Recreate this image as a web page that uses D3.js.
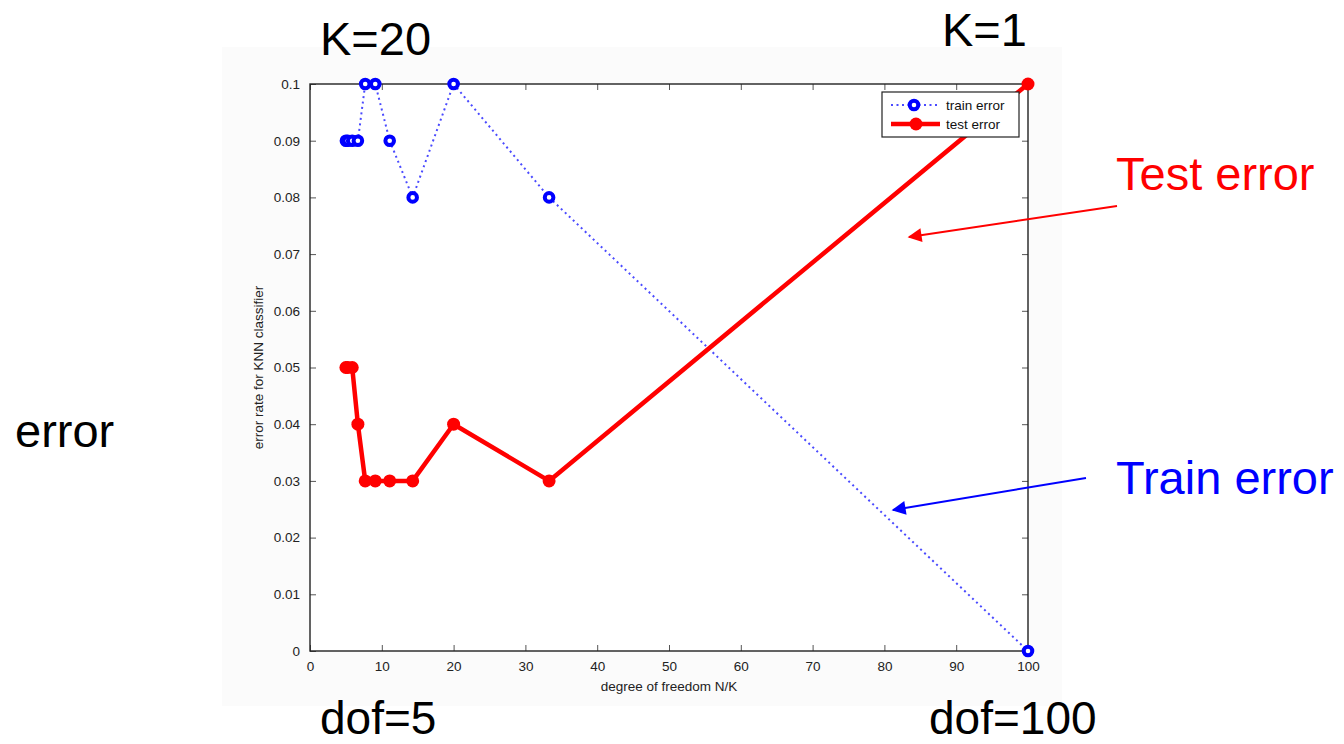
<!DOCTYPE html>
<html>
<head>
<meta charset="utf-8">
<script src="https://cdn.jsdelivr.net/npm/d3@7"></script>
<style>
  html, body { margin: 0; padding: 0; background: #ffffff; }
  svg { display: block; }
</style>
</head>
<body>
<svg id="chart" width="1344" height="744"></svg>
<script>
// Degrees of freedom N/K (N = 100) for the neighbourhood sizes that were tried
const dof = [5, 5.26, 5.88, 6.67, 7.69, 9.09, 11.1, 14.3, 20, 33.3, 100];
// Error rates of the KNN classifier at each dof
const trainError = [0.09, 0.09, 0.09, 0.09, 0.1, 0.1, 0.09, 0.08, 0.1, 0.08, 0];
const testError  = [0.05, 0.05, 0.05, 0.04, 0.03, 0.03, 0.03, 0.03, 0.04, 0.03, 0.1];
// Axis ticks
const xTicks = [0, 10, 20, 30, 40, 50, 60, 70, 80, 90, 100];
const yTicks = [0, 0.01, 0.02, 0.03, 0.04, 0.05, 0.06, 0.07, 0.08, 0.09, 0.1];
const yTickLabels = ["0", "0.01", "0.02", "0.03", "0.04", "0.05", "0.06", "0.07", "0.08", "0.09", "0.1"];
const seriesNames = ["train error", "test error"];

const svg = d3.select("#chart");
const big = "'Liberation Sans', Arial, sans-serif";
const small = "'Liberation Sans', Arial, sans-serif";

// figure panel
svg.append("rect").attr("x", 222).attr("y", 47).attr("width", 840).attr("height", 659)
  .attr("fill", "#fbfbfb");

const x = d3.scaleLinear().domain([0, 100]).range([310, 1028]);
const y = d3.scaleLinear().domain([0, 0.1]).range([651, 84]);

// plot area
svg.append("rect").attr("x", x(0)).attr("y", y(0.1))
  .attr("width", x(100) - x(0)).attr("height", y(0) - y(0.1))
  .attr("fill", "#ffffff");

const tickStyle = g => {
  g.select(".domain").remove();
  g.selectAll(".tick line").attr("stroke", "#555");
  g.selectAll(".tick text").attr("font-family", small).attr("font-size", 13.5).attr("fill", "#222");
};

// bottom axis (ticks point inward)
svg.append("g").attr("transform", `translate(0,${y(0)})`)
  .call(d3.axisBottom(x).tickValues(xTicks).tickSizeInner(-6).tickSizeOuter(0).tickPadding(10).tickFormat(d3.format("d")))
  .call(tickStyle);
// top axis
svg.append("g").attr("transform", `translate(0,${y(0.1)})`)
  .call(d3.axisTop(x).tickValues(xTicks).tickSizeInner(-6).tickSizeOuter(0).tickFormat(""))
  .call(tickStyle);
// left axis
svg.append("g").attr("transform", `translate(${x(0)},0)`)
  .call(d3.axisLeft(y).tickValues(yTicks).tickSizeInner(-6).tickSizeOuter(0).tickPadding(10)
    .tickFormat((d, i) => yTickLabels[i]))
  .call(tickStyle);
// right axis
svg.append("g").attr("transform", `translate(${x(100)},0)`)
  .call(d3.axisRight(y).tickValues(yTicks).tickSizeInner(-6).tickSizeOuter(0).tickFormat(""))
  .call(tickStyle);

// frame
svg.append("rect").attr("x", x(0)).attr("y", y(0.1))
  .attr("width", x(100) - x(0)).attr("height", y(0) - y(0.1))
  .attr("fill", "none").attr("stroke", "#222").attr("stroke-width", 1.4);

// axis titles
svg.append("text").attr("x", (x(0) + x(100)) / 2).attr("y", 691)
  .attr("text-anchor", "middle").attr("font-family", small).attr("font-size", 13.5).attr("fill", "#222")
  .text("degree of freedom N/K");
svg.append("text").attr("transform", `translate(263,${(y(0) + y(0.1)) / 2}) rotate(-90)`)
  .attr("text-anchor", "middle").attr("font-family", small).attr("font-size", 13.5).attr("fill", "#222")
  .text("error rate for KNN classifier");

const trainPts = dof.map((d, i) => [d, trainError[i]]);
const testPts = dof.map((d, i) => [d, testError[i]]);
const line = d3.line().x(d => x(d[0])).y(d => y(d[1]));

// train error: dotted blue line with open circles
svg.append("path").datum(trainPts).attr("d", line)
  .attr("fill", "none").attr("stroke", "#4a4aff").attr("stroke-width", 2)
  .attr("stroke-dasharray", "2,3.5");
svg.append("g").selectAll("circle").data(trainPts).join("circle")
  .attr("cx", d => x(d[0])).attr("cy", d => y(d[1])).attr("r", 4.3)
  .attr("fill", "#ffffff").attr("stroke", "#0000ff").attr("stroke-width", 4);

// test error: thick red line with filled circles
svg.append("path").datum(testPts).attr("d", line)
  .attr("fill", "none").attr("stroke", "#ff0000").attr("stroke-width", 4.5)
  .attr("stroke-linejoin", "round");
svg.append("g").selectAll("circle").data(testPts).join("circle")
  .attr("cx", d => x(d[0])).attr("cy", d => y(d[1])).attr("r", 6.5)
  .attr("fill", "#ff0000");

// legend
const lg = svg.append("g");
lg.append("rect").attr("x", 882).attr("y", 92).attr("width", 137).attr("height", 45)
  .attr("fill", "#ffffff").attr("stroke", "#222").attr("stroke-width", 1.2);
lg.append("line").attr("x1", 891).attr("x2", 940).attr("y1", 105).attr("y2", 105)
  .attr("stroke", "#4a4aff").attr("stroke-width", 2).attr("stroke-dasharray", "2,3.5");
lg.append("circle").attr("cx", 914).attr("cy", 105).attr("r", 4.3)
  .attr("fill", "#ffffff").attr("stroke", "#0000ff").attr("stroke-width", 4);
lg.append("line").attr("x1", 891).attr("x2", 940).attr("y1", 124).attr("y2", 124)
  .attr("stroke", "#ff0000").attr("stroke-width", 4.5);
lg.append("circle").attr("cx", 916).attr("cy", 124).attr("r", 6.5).attr("fill", "#ff0000");
lg.selectAll("text").data(seriesNames).join("text")
  .attr("x", 946).attr("y", (d, i) => 110 + i * 19)
  .attr("font-family", small).attr("font-size", 13.5).attr("fill", "#111")
  .text(d => d);

// annotations
const ann = [
  { t: "K=20", x: 320, y: 55, s: 47, c: "#000" },
  { t: "K=1", x: 942, y: 46, s: 47, c: "#000" },
  { t: "error", x: 15, y: 447, s: 47, c: "#000" },
  { t: "dof=5", x: 320, y: 734, s: 46, c: "#000" },
  { t: "dof=100", x: 929, y: 734, s: 46, c: "#000" },
  { t: "Test error", x: 1116, y: 190, s: 47, c: "#ff0000" },
  { t: "Train error", x: 1116, y: 494, s: 47, c: "#0000ff" }
];
svg.append("g").selectAll("text").data(ann).join("text")
  .attr("x", d => d.x).attr("y", d => d.y)
  .attr("font-family", big).attr("font-size", d => d.s).attr("fill", d => d.c)
  .text(d => d.t);

// arrows
const defs = svg.append("defs");
[["red", "#ff0000"], ["blue", "#0000ff"]].forEach(([id, col]) => {
  defs.append("marker").attr("id", "arrow-" + id)
    .attr("viewBox", "0 0 10 10").attr("refX", 9).attr("refY", 5)
    .attr("markerWidth", 8).attr("markerHeight", 7).attr("markerUnits", "strokeWidth")
    .attr("orient", "auto")
    .append("path").attr("d", "M0,0 L10,5 L0,10 Z").attr("fill", col);
});
svg.append("line").attr("x1", 1117).attr("y1", 206).attr("x2", 909).attr("y2", 237)
  .attr("stroke", "#ff0000").attr("stroke-width", 2).attr("marker-end", "url(#arrow-red)");
svg.append("line").attr("x1", 1086).attr("y1", 478).attr("x2", 893).attr("y2", 510)
  .attr("stroke", "#0000ff").attr("stroke-width", 2).attr("marker-end", "url(#arrow-blue)");
</script>
</body>
</html>
